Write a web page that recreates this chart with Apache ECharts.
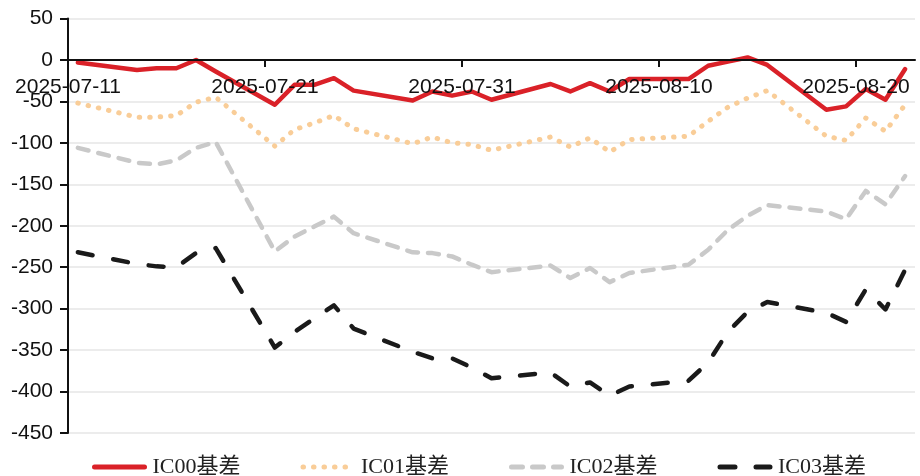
<!DOCTYPE html>
<html>
<head>
<meta charset="utf-8">
<script src="https://cdn.jsdelivr.net/npm/echarts@6/dist/echarts.min.js"></script>
<style>
html,body{margin:0;padding:0;background:#fff;}
#chart{width:920px;height:476px;}
</style>
</head>
<body>
<div id="chart"></div>
<script>
// ---- data ----
const dates = ['2025-07-11','2025-07-14','2025-07-15','2025-07-16','2025-07-17','2025-07-18',
  '2025-07-21','2025-07-22','2025-07-23','2025-07-24','2025-07-25',
  '2025-07-28','2025-07-29','2025-07-30','2025-07-31','2025-08-01',
  '2025-08-04','2025-08-05','2025-08-06','2025-08-07','2025-08-08',
  '2025-08-11','2025-08-12','2025-08-13','2025-08-14','2025-08-15',
  '2025-08-18','2025-08-19','2025-08-20','2025-08-21','2025-08-22'];
const ic00 = [-3,-12,-10,-10,0,-14,-54,-30,-30,-22,-37,-49,-38,-43,-38,-48,-29,-38,-28,-38,-23,-23,-7,-2,3,-6,-60,-56,-35,-48,-11];
const ic01 = [-52,-69,-69,-67,-51,-45,-104,-84,-76,-67,-83,-101,-93,-100,-102,-109,-93,-105,-94,-111,-96,-92,-74,-57,-46,-37,-92,-97,-70,-86,-54];
const ic02 = [-106,-124,-126,-121,-106,-99,-231,-213,-201,-189,-209,-232,-233,-237,-247,-256,-248,-263,-251,-268,-257,-247,-229,-205,-188,-175,-183,-192,-158,-174,-140];
const ic03 = [-232,-246,-249,-250,-233,-227,-347,-328,-312,-296,-324,-352,-360,-360,-371,-384,-377,-394,-389,-405,-394,-387,-365,-328,-304,-292,-305,-316,-277,-301,-253];
const seriesNames = ['IC00基差','IC01基差','IC02基差','IC03基差'];
const xStart = '2025-07-11';
const xTickDates = ['2025-07-11','2025-07-21','2025-07-31','2025-08-10','2025-08-20'];
const yMin = -450, yMax = 50, yStep = 50;

// ---- helpers ----
function dayNum(s){ const p=s.split('-').map(Number); return Date.UTC(p[0],p[1]-1,p[2])/86400000; }
const base = dayNum(xStart);
function pts(vals){ return vals.map((v,i)=>[dayNum(dates[i])-base+0.5, v]); }
function labelOf(v){ const d=new Date((base+v)*86400000); const m=String(d.getUTCMonth()+1).padStart(2,'0'); const dd=String(d.getUTCDate()).padStart(2,'0'); return d.getUTCFullYear()+'-'+m+'-'+dd; }
const xTickVals = xTickDates.map(s=>dayNum(s)-base);

const gridTop = 18.5, gridH = 414.5;
// x axis sits on the value 0 line
const zeroOffset = -(gridH * (0 - yMin) / (yMax - yMin));

const chart = echarts.init(document.getElementById('chart'));
const axisFont = {fontFamily:'Liberation Sans, Arial, sans-serif', fontSize:21, color:'#111'};
chart.setOption({
  animation:false,
  backgroundColor:'#fff',
  grid:{left:68,right:5,top:gridTop,height:gridH},
  xAxis:{
    type:'value', min:0, max:43, interval:10, z:10, position:'bottom', offset:zeroOffset,
    axisLine:{onZero:false,lineStyle:{color:'#111',width:2}},
    axisTick:{show:true,inside:false,length:7,lineStyle:{color:'#111',width:2},customValues:xTickVals.slice(1)},
    axisLabel:Object.assign({margin:17,formatter:labelOf,customValues:xTickVals},axisFont),
    splitLine:{show:false}
  },
  yAxis:{
    type:'value', min:yMin, max:yMax, interval:yStep,
    axisLine:{show:true,onZero:false,lineStyle:{color:'#111',width:2}},
    axisTick:{show:true,length:8,lineStyle:{color:'#111',width:2}},
    axisLabel:Object.assign({margin:15},axisFont),
    splitLine:{show:true,lineStyle:{color:'#ececec',width:2}}
  },
  legend:{
    left:87, top:451, itemWidth:50, itemHeight:12, itemGap:60,
    itemStyle:{color:'rgba(0,0,0,0)',borderWidth:0,opacity:0},
    lineStyle:{width:5},
    textStyle:{fontFamily:'Liberation Serif, Times New Roman, Noto Sans CJK SC, serif',fontSize:22,color:'#222',padding:[0,0,0,3]},
    data:seriesNames
  },
  series:[
    {name:seriesNames[3],type:'line',data:pts(ic03),showSymbol:false,symbol:'none',z:2,
      lineStyle:{color:'#1a1a1a',width:4.5,type:[15,21],cap:'round',join:'round'},itemStyle:{color:'#1a1a1a'}},
    {name:seriesNames[2],type:'line',data:pts(ic02),showSymbol:false,symbol:'none',z:3,
      lineStyle:{color:'#c9c9c9',width:4.5,type:[11,10],cap:'round',join:'round'},itemStyle:{color:'#c9c9c9'}},
    {name:seriesNames[1],type:'line',data:pts(ic01),showSymbol:false,symbol:'none',z:4,
      lineStyle:{color:'#f9cd98',width:5,type:[0.5,10],cap:'round',join:'round'},itemStyle:{color:'#f9cd98'}},
    {name:seriesNames[0],type:'line',data:pts(ic00),showSymbol:false,symbol:'none',z:5,
      lineStyle:{color:'#da2128',width:4.5,type:'solid',cap:'round',join:'round'},itemStyle:{color:'#da2128'}}
  ]
});
</script>
</body>
</html>
